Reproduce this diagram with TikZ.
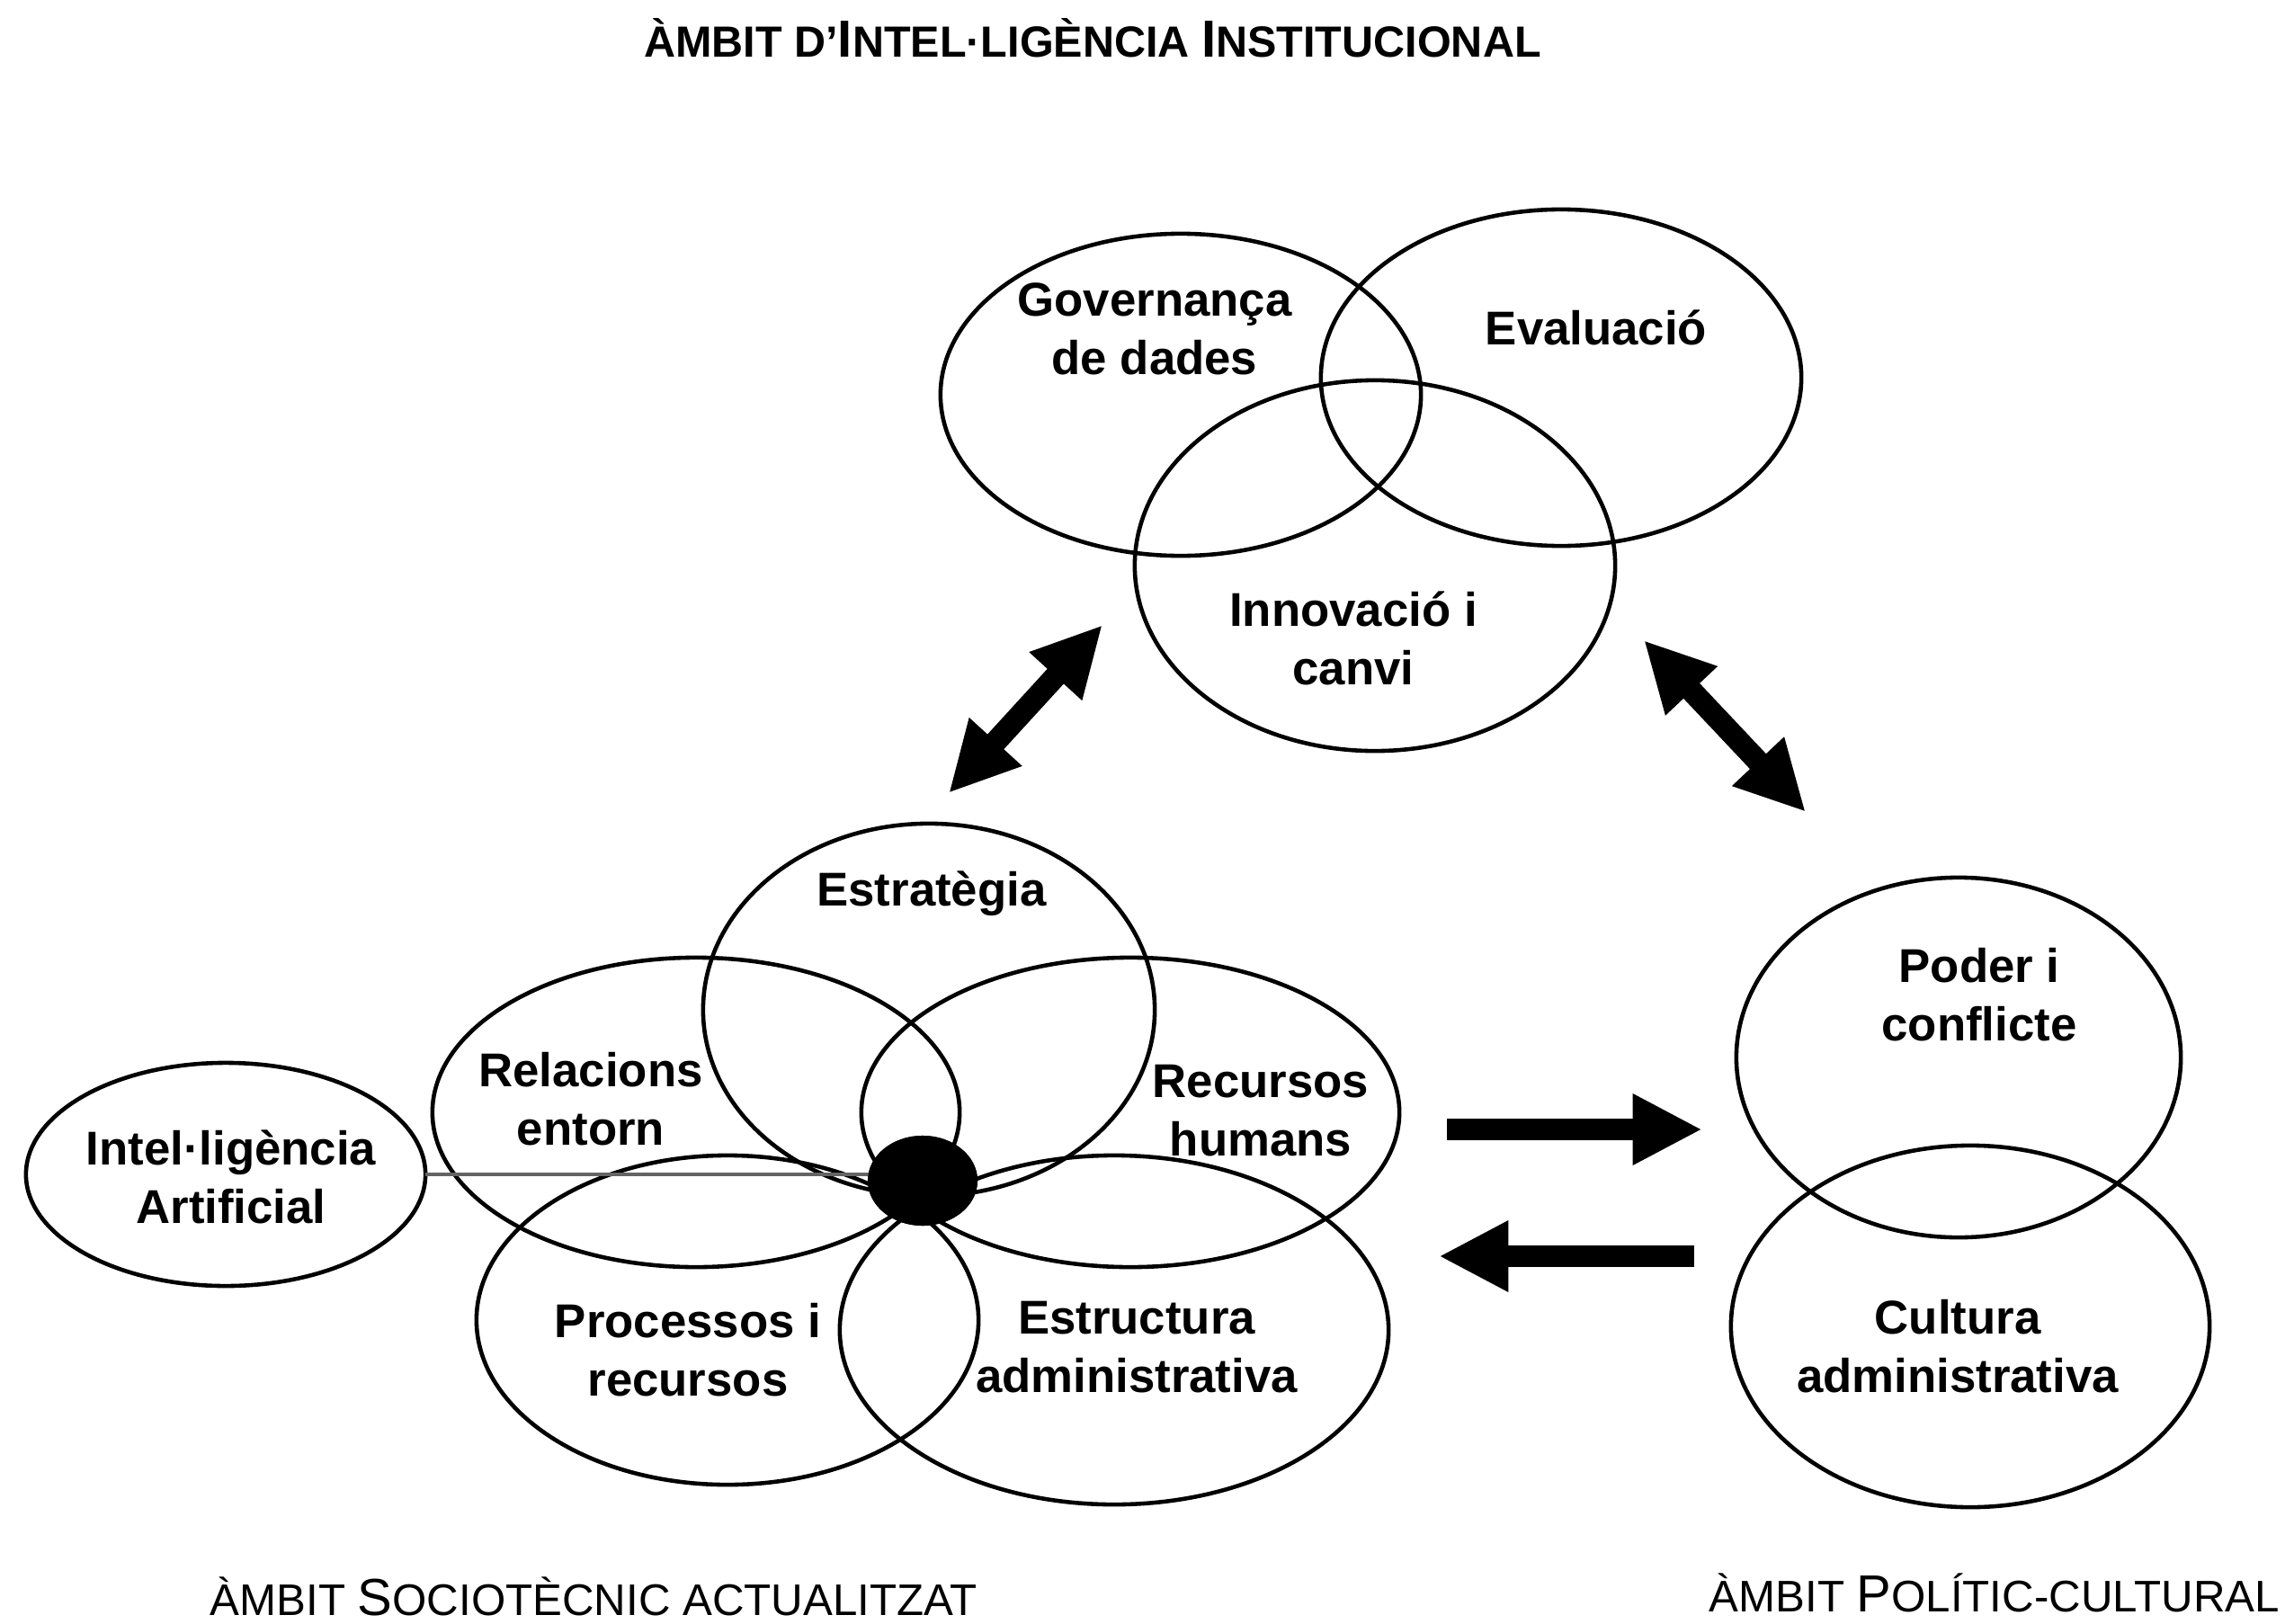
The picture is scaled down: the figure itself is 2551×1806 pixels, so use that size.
\documentclass[tikz,border=0pt]{standalone}
\usepackage{fontspec}
\setmainfont{Liberation Sans}
\usetikzlibrary{shapes.geometric,arrows.meta}
\definecolor{linkgray}{RGB}{100,100,100}
\newcommand\BigC[1]{{\fontsize{16.5}{16.5}\selectfont #1}}
\begin{document}
\begin{tikzpicture}[x=0.01cm,y=-0.01cm,
  ell/.style={draw, ellipse, line width=1.3pt, inner sep=0pt, outer sep=0pt},
  lbl/.style={align=center, font=\fontsize{15}{18.5}\selectfont\bfseries, inner sep=0pt},
  fat/.style={line width=7pt, -{Triangle[length=22pt,width=21pt]}},
  dfat/.style={line width=7pt, {Triangle[length=22pt,width=21pt]}-{Triangle[length=22pt,width=21pt]}},
  ttl/.style={inner sep=0pt, font=\fontsize{14}{16}\selectfont}
]
\useasboundingbox (0,0) rectangle (2551,1806);

% Titles
\node[ttl, font=\fontsize{13.8}{16}\selectfont\bfseries, anchor=base] (t1) at (1215,64)
  {ÀMBIT D’\BigC{I}NTEL·LIGÈNCIA \BigC{I}NSTITUCIONAL};
\node[ttl, anchor=base west] (t2) at (233,1796)
  {ÀMBIT \BigC{S}OCIOTÈCNIC ACTUALITZAT};
\node[ttl, anchor=base west] (t3) at (1900,1792)
  {ÀMBIT \BigC{P}OLÍTIC-CULTURAL};

% Institutional ellipses
\node[ell, minimum width=5.34cm, minimum height=3.58cm] (gov) at (1313,439) {};
\node[ell, minimum width=5.34cm, minimum height=3.74cm] (eva) at (1736,420) {};
\node[ell, minimum width=5.34cm, minimum height=4.12cm] (inn) at (1529,629) {};

% Sociotechnical ellipses
\node[ell, minimum width=5.02cm, minimum height=4.14cm] (est) at (1033,1123) {};
\node[ell, minimum width=5.86cm, minimum height=3.44cm] (rel) at (774,1237) {};
\node[ell, minimum width=5.98cm, minimum height=3.44cm] (rh) at (1257,1237) {};
\node[ell, minimum width=5.58cm, minimum height=3.66cm] (pro) at (809,1468) {};
\node[ell, minimum width=6.10cm, minimum height=3.88cm] (eadm) at (1239,1479) {};
\node[ell, minimum width=4.44cm, minimum height=2.48cm] (ai) at (251,1306) {};

% Political-cultural ellipses
\node[ell, minimum width=4.94cm, minimum height=4.00cm] (pod) at (2178,1176) {};
\node[ell, minimum width=5.32cm, minimum height=4.02cm] (cul) at (2191,1475) {};

% Link from AI to the centre
\node[fill=black, ellipse, inner sep=0pt, minimum width=1.22cm, minimum height=1.00cm] (blk) at (1026,1313) {};
\coordinate (blkin) at (1000,1306);
\draw[linkgray, line width=1.2pt] (ai.east) -- (blkin);
\node[fill=black, ellipse, inner sep=0pt, minimum width=1.22cm, minimum height=1.00cm] at (blk) {};

% Labels
\node[lbl] (lgov) at (1284,366) {Governança\\de dades};
\node[lbl] (leva) at (1775,364) {Evaluació};
\node[lbl] (linn) at (1505,710) {Innovació i\\canvi};
\node[lbl] (lest) at (1036,994) {Estratègia};
\node[lbl] (lrel) at (657,1222) {Relacions\\entorn};
\node[lbl] (lrh) at (1402,1235) {Recursos\\humans};
\node[lbl] (lai) at (257,1309) {Intel·ligència\\Artificial};
\node[lbl] (lpro) at (765,1501) {Processos i\\recursos};
\node[lbl] (leadm) at (1264,1498) {Estructura\\administrativa};
\node[lbl] (lpod) at (2201,1106) {Poder i\\conflicte};
\node[lbl] (lcul) at (2177,1497) {Cultura\\administrativa};

% Arrows
\coordinate (a1s) at (1055,882);
\coordinate (a1e) at (1226,695);
\coordinate (a2s) at (1828,712);
\coordinate (a2e) at (2008,903);
\coordinate (a3s) at (1609,1256);
\coordinate (a3e) at (1893,1256);
\coordinate (a4s) at (1884,1397);
\coordinate (a4e) at (1600,1397);
\draw[dfat] (a1s) -- (a1e);
\draw[dfat] (a2s) -- (a2e);
\draw[fat] (a3s) -- (a3e);
\draw[fat] (a4s) -- (a4e);
\end{tikzpicture}
\end{document}
